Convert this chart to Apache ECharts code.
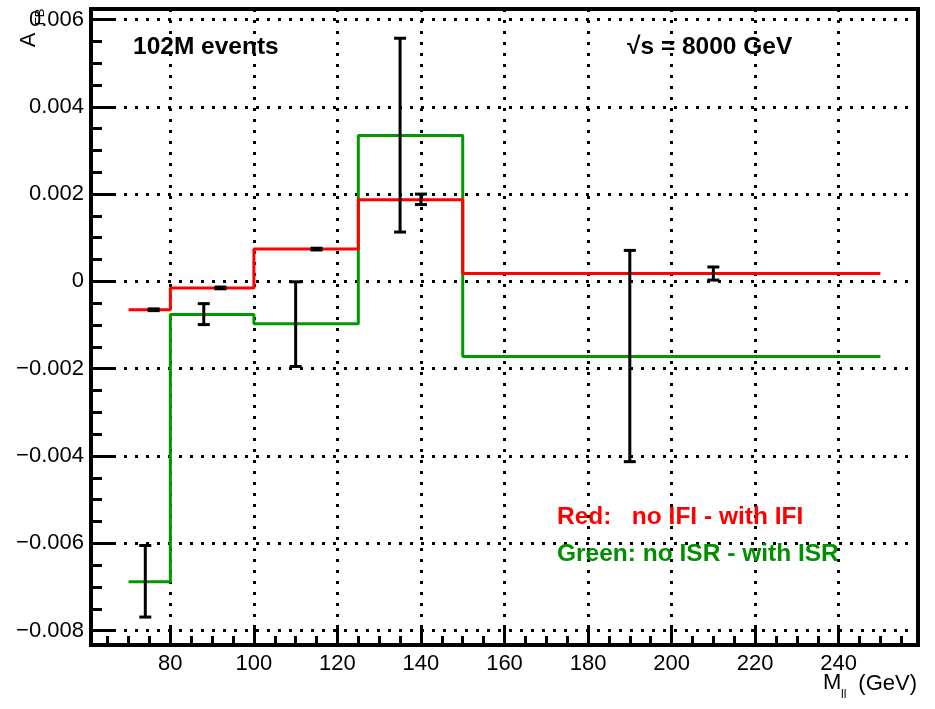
<!DOCTYPE html>
<html>
<head>
<meta charset="utf-8">
<script src="https://cdn.jsdelivr.net/npm/echarts@6/dist/echarts.min.js"></script>
<style>
  html, body { margin: 0; padding: 0; background: #fff; }
  #chart { width: 935px; height: 709px; }
</style>
</head>
<body>
<div id="chart"></div>
<script>
// Bin edges of the dilepton mass histogram (GeV)
const binEdges = [70, 80, 100, 125, 150, 250];

// A_FB differences per bin
const redDiff   = [-0.00065, -0.00015, 0.00074, 0.00187, 0.00018];   // no IFI - with IFI
const greenDiff = [-0.00688, -0.00076, -0.00097, 0.00334, -0.00172]; // no ISR - with ISR

// Statistical error bars
const greenErrX = [74, 88, 110, 135, 190];
const greenErrY = [-0.00687, -0.00075, -0.00098, 0.00335, -0.00171];
const greenErr  = [0.00082, 0.00024, 0.00097, 0.00222, 0.00242];

const redErrX = [76, 92, 115, 140, 210];
const redErrY = [-0.00065, -0.00015, 0.00074, 0.00188, 0.00018];
const redErr  = [0.00002, 0.00002, 0.00002, 0.00012, 0.00015];

// Axis tick labels
const xTickValues = [80, 100, 120, 140, 160, 180, 200, 220, 240];
const yTickValues = [-0.008, -0.006, -0.004, -0.002, 0, 0.002, 0.004, 0.006];
const yTickLabels = ['\u22120.008', '\u22120.006', '\u22120.004', '\u22120.002', '0', '0.002', '0.004', '0.006'];

const FONT = "'Liberation Sans', Arial, Helvetica, sans-serif";

// Histogram outline: each value holds from its left edge to the next edge
function stepData(vals) {
  return binEdges.map((x, i) => [x, vals[Math.min(i, vals.length - 1)]]);
}

function errorBars(xs, ys, errs) {
  return {
    type: 'custom',
    silent: true,
    z: 5,
    encode: { x: 0, y: [1, 2] },
    data: xs.map((x, i) => [x, ys[i] - errs[i], ys[i] + errs[i]]),
    renderItem(params, api) {
      const lo = api.coord([api.value(0), api.value(1)]);
      const hi = api.coord([api.value(0), api.value(2)]);
      const half = 6;
      const style = { stroke: '#000', lineWidth: 3, fill: null };
      return {
        type: 'group',
        children: [
          { type: 'line', shape: { x1: lo[0], y1: lo[1], x2: hi[0], y2: hi[1] }, style },
          { type: 'line', shape: { x1: lo[0] - half, y1: lo[1], x2: lo[0] + half, y2: lo[1] }, style },
          { type: 'line', shape: { x1: hi[0] - half, y1: hi[1], x2: hi[0] + half, y2: hi[1] }, style }
        ]
      };
    }
  };
}

function label(text, x, y, opts) {
  const o = Object.assign({ size: 22, weight: 'normal', color: '#000', align: 'left', vAlign: 'middle', rotation: 0 }, opts || {});
  return {
    type: 'text',
    x, y,
    rotation: o.rotation,
    z: 10,
    style: {
      text,
      fill: o.color,
      font: o.weight + ' ' + o.size + 'px ' + FONT,
      textAlign: o.align,
      textVerticalAlign: o.vAlign,
      align: o.align,
      verticalAlign: o.vAlign
    }
  };
}

const chart = echarts.init(document.getElementById('chart'), null, { renderer: 'canvas' });

const gridStyle = { color: '#000', width: 3, type: [3, 8] };

chart.setOption({
  animation: false,
  backgroundColor: '#fff',
  grid: {
    left: 91, right: 17, top: 9, bottom: 64,
    show: true, borderColor: '#000', borderWidth: 4, backgroundColor: 'transparent'
  },
  xAxis: {
    type: 'value',
    position: 'bottom',
    min: 61, max: 259,
    splitNumber: 10,
    axisLine: { show: false, onZero: false },
    axisTick: { show: true, inside: true, length: 18, lineStyle: { color: '#000', width: 3 }, customValues: xTickValues },
    minorTick: { show: true, splitNumber: 4, length: 9, lineStyle: { color: '#000', width: 3 } },
    axisLabel: {
      customValues: xTickValues,
      margin: 8,
      color: '#000', fontSize: 22, fontFamily: FONT
    },
    splitLine: { show: true, lineStyle: gridStyle }
  },
  yAxis: {
    type: 'value',
    position: 'left',
    min: -0.00833, max: 0.00624,
    splitNumber: 7,
    axisLine: { show: false, onZero: false },
    axisTick: { show: true, inside: true, length: 22, lineStyle: { color: '#000', width: 3 }, customValues: yTickValues },
    minorTick: { show: true, splitNumber: 4, length: 11, lineStyle: { color: '#000', width: 3 } },
    axisLabel: {
      customValues: yTickValues,
      margin: 7,
      color: '#000', fontSize: 22, fontFamily: FONT,
      formatter: (v) => {
        const i = yTickValues.findIndex(t => Math.abs(t - v) < 1e-9);
        return i >= 0 ? yTickLabels[i] : '';
      }
    },
    splitLine: { show: true, lineStyle: gridStyle }
  },
  series: [
    {
      type: 'line', step: 'end', data: stepData(greenDiff), showSymbol: false, symbol: 'none',
      lineStyle: { color: '#009900', width: 3 }, z: 3, silent: true
    },
    {
      type: 'line', step: 'end', data: stepData(redDiff), showSymbol: false, symbol: 'none',
      lineStyle: { color: '#ff0000', width: 3 }, z: 4, silent: true
    },
    errorBars(greenErrX, greenErrY, greenErr),
    errorBars(redErrX, redErrY, redErr)
  ],
  graphic: [
    label('102M events', 133, 47, { size: 24.5, weight: 'bold' }),
    label('\u221As = 8000 GeV', 627, 47, { size: 24.5, weight: 'bold' }),
    label('Red:   no IFI - with IFI', 557, 517, { size: 24.5, weight: 'bold', color: '#ff0000' }),
    label('Green: no ISR - with ISR', 557, 554, { size: 24.5, weight: 'bold', color: '#008f00' }),
    // y-axis title A_FB, reading bottom to top
    label('A', 29, 40, { size: 22, align: 'center', rotation: Math.PI / 2 }),
    label('FB', 40, 17, { size: 13, align: 'center', rotation: Math.PI / 2 }),
    // x-axis title M_ll (GeV)
    label('M', 823, 683, { size: 22 }),
    label('ll', 841, 695, { size: 12 }),
    label('(GeV)', 917, 684, { size: 22, align: 'right' })
  ]
});
</script>
</body>
</html>
